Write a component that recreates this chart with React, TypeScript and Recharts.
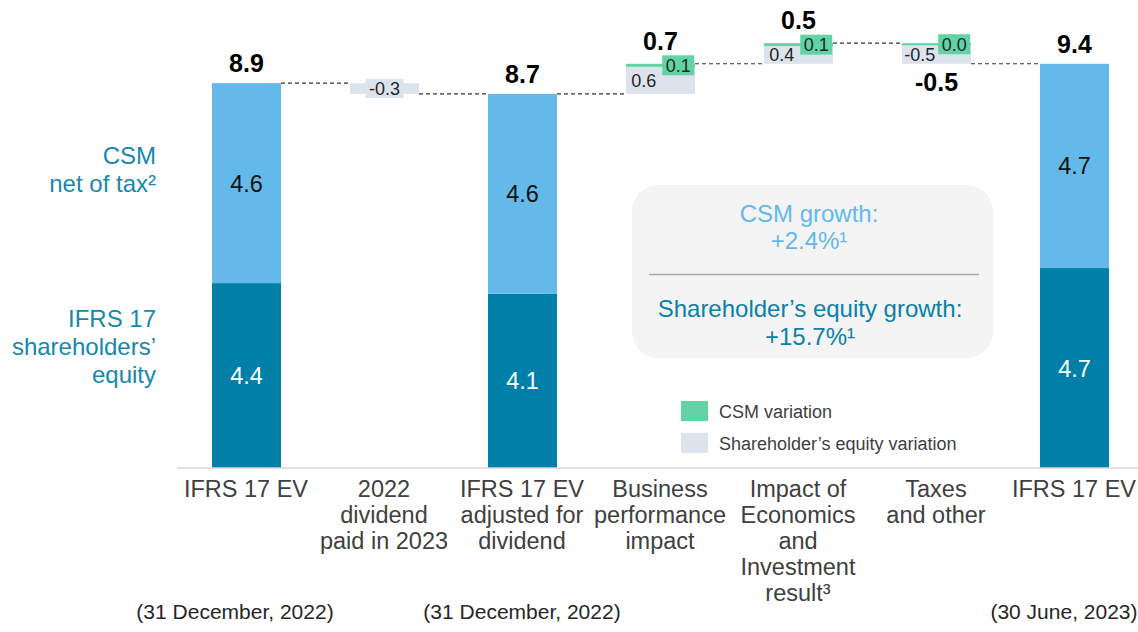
import React from "react";
import { BarChart, Bar, XAxis, YAxis } from "recharts";

const FONT = "'Liberation Sans', Arial, Helvetica, sans-serif";

const categoryLines = [
  ["IFRS 17 EV"],
  ["2022", "dividend", "paid in 2023"],
  ["IFRS 17 EV", "adjusted for", "dividend"],
  ["Business", "performance", "impact"],
  ["Impact of", "Economics", "and", "Investment", "result³"],
  ["Taxes", "and other"],
  ["IFRS 17 EV"],
];
const dateLabels = ["(31 December, 2022)", "", "(31 December, 2022)", "", "", "", "(30 June, 2023)"];
const isTotal = [true, false, true, false, false, false, true];

// bar sizes (EUR bn)
const equityValues = [4.3, -0.25, 4.05, 0.63, 0.41, -0.43, 4.65];
const csmValues = [4.65, 0, 4.65, 0.07, 0.07, -0.05, 4.75];

// printed labels
const equityLabels = ["4.4", "-0.3", "4.1", "0.6", "0.4", "-0.5", "4.7"];
const csmLabels = ["4.6", "", "4.6", "0.1", "0.1", "0.0", "4.7"];
const totalLabels = ["8.9", "", "8.7", "0.7", "0.5", "-0.5", "9.4"];

const DARK = "#0080a8";
const LIGHT = "#63b9ea";
const GREY = "#dde3ed";
const GREEN = "#62d3a5";
const BAR_W = 69;

// waterfall rows: transparent base + equity + csm segments
let level = 0;
const rows = categoryLines.map((_, i) => {
  const eq = equityValues[i];
  const csm = csmValues[i];
  if (isTotal[i]) {
    level = eq + csm;
    return { key: String(i), base: 0, eq, csm, end: level, down: false };
  }
  const start = level;
  const end = start + eq + csm;
  level = end;
  return {
    key: String(i),
    base: Math.min(start, end),
    eq: Math.abs(eq),
    csm: Math.abs(csm),
    end,
    down: end < start,
  };
});

const dateDx = [-11, 0, 0, 0, 0, 0, -10];

function CategoryTick(props: any) {
  const { x, y, payload } = props;
  const i = Number(payload.value);
  return (
    <g>
      <text textAnchor="middle" fontSize={23.5} fill="#404040" fontFamily={FONT}>
        {categoryLines[i].map((line, k) => (
          <tspan key={k} x={x} y={y + 29 + k * 26}>
            {line}
          </tspan>
        ))}
      </text>
      {dateLabels[i] && (
        <text x={x + dateDx[i]} y={y + 151} textAnchor="middle" fontSize={21} fill="#262626" fontFamily={FONT}>
          {dateLabels[i]}
        </text>
      )}
    </g>
  );
}

function LinkShape(props: any) {
  const { x, y, width, index } = props;
  if (index >= rows.length - 1) return <g />;
  return (
    <line
      x1={x + width}
      x2={x + 2 * width}
      y1={y}
      y2={y}
      stroke="#333"
      strokeWidth={1.1}
      strokeDasharray="4 3"
    />
  );
}

function EquityShape(props: any) {
  const { x, y, width, height, index } = props;
  const row = rows[index];
  const total = isTotal[index];
  const cy = y + height / 2;
  if (total) {
    return (
      <g>
        <rect x={x} y={y} width={width} height={height} fill={DARK} />
        <text x={x + width / 2} y={cy + 8.5} textAnchor="middle" fontSize={23.5} fill="#fff" fontFamily={FONT}>
          {equityLabels[index]}
        </text>
      </g>
    );
  }
  const centred = row.csm === 0;
  const cx = centred ? x + width / 2 : x + width * 0.25 + 0.5;
  const label = equityLabels[index];
  const boxW = label.length * 9.5;
  return (
    <g>
      <rect x={x} y={y} width={width} height={height} fill={GREY} />
      {centred && <rect x={cx - boxW / 2} y={cy - 9.5} width={boxW} height={19} fill={GREY} />}
      <text x={cx} y={cy + 6.5} textAnchor="middle" fontSize={18} fill="#262626" fontFamily={FONT}>
        {label}
      </text>
      {row.down && totalLabels[index] && (
        <text x={x + width / 2} y={y + height + 27} textAnchor="middle" fontSize={25} fontWeight={700} fill="#000" fontFamily={FONT}>
          {totalLabels[index]}
        </text>
      )}
    </g>
  );
}

function CsmShape(props: any) {
  const { x, y, width, height, index } = props;
  const row = rows[index];
  const total = isTotal[index];
  const cy = y + height / 2;
  const showTop = totalLabels[index] && !row.down;
  return (
    <g>
      {height > 0 && <rect x={x} y={y} width={width} height={height} fill={total ? LIGHT : GREEN} />}
      {total && (
        <text x={x + width / 2} y={cy + 8.5} textAnchor="middle" fontSize={23.5} fill="#111" fontFamily={FONT}>
          {csmLabels[index]}
        </text>
      )}
      {!total && csmLabels[index] && (
        <g>
          <rect x={x + width * 0.75 + 0.5 - 16} y={cy - 10} width={32} height={20} fill={GREEN} />
          <text x={x + width * 0.75 + 0.5} y={cy + 6.5} textAnchor="middle" fontSize={18} fill="#262626" fontFamily={FONT}>
            {csmLabels[index]}
          </text>
        </g>
      )}
      {showTop && (
        <text
          x={x + width / 2}
          y={y - (total ? 11 : 14)}
          textAnchor="middle"
          fontSize={25}
          fontWeight={700}
          fill="#000"
          fontFamily={FONT}
        >
          {totalLabels[index]}
        </text>
      )}
    </g>
  );
}

export default function App() {
  return (
    <div
      style={{
        position: "absolute",
        left: 0,
        top: 0,
        width: 1138,
        height: 632,
        overflow: "hidden",
        background: "#fff",
        fontFamily: FONT,
      }}
    >
      <BarChart
        width={1144}
        height={632}
        data={rows}
        margin={{ top: 38, right: 1, bottom: 0, left: 177 }}
        barCategoryGap="50%"
      >
        <XAxis
          dataKey="key"
          height={164}
          interval={0}
          tickLine={false}
          tickSize={0}
          tickMargin={0}
          axisLine={{ stroke: "#d9d9d9", strokeWidth: 1.5 }}
          tick={<CategoryTick />}
        />
        <XAxis xAxisId="link" dataKey="key" hide />
        <YAxis hide domain={[0, 10]} />
        <Bar dataKey="end" xAxisId="link" barSize={BAR_W} fill="none" shape={<LinkShape />} isAnimationActive={false} />
        <Bar dataKey="base" stackId="w" barSize={BAR_W} fill="transparent" isAnimationActive={false} />
        <Bar dataKey="eq" stackId="w" barSize={BAR_W} shape={<EquityShape />} isAnimationActive={false} />
        <Bar dataKey="csm" stackId="w" barSize={BAR_W} shape={<CsmShape />} isAnimationActive={false} />
      </BarChart>

      <svg
        width={1138}
        height={632}
        style={{ position: "absolute", left: 0, top: 0, pointerEvents: "none" }}
        fontFamily={FONT}
      >
        <text textAnchor="end" fontSize={24} fill="#1787ae">
          <tspan x={156} y={164}>CSM</tspan>
          <tspan x={156} y={192}>net of tax²</tspan>
          <tspan x={156} y={327}>IFRS 17</tspan>
          <tspan x={156} y={355}>shareholders’</tspan>
          <tspan x={156} y={383}>equity</tspan>
        </text>

        <rect x={632} y={185} width={361} height={173} rx={26} fill="#f4f4f4" />
        <line x1={649} x2={979} y1={274.5} y2={274.5} stroke="#a9a9a9" strokeWidth={1.5} />
        <text textAnchor="middle" fontSize={24}>
          <tspan x={809} y={222} fill={LIGHT}>CSM growth:</tspan>
          <tspan x={809} y={249} fill={LIGHT}>+2.4%¹</tspan>
          <tspan x={810} y={317} fill="#0b80a8">Shareholder’s equity growth:</tspan>
          <tspan x={810} y={345} fill="#0b80a8">+15.7%¹</tspan>
        </text>

        <rect x={681} y={401} width={27} height={20} fill={GREEN} />
        <text x={719} y={418} fontSize={18} fill="#404040">CSM variation</text>
        <rect x={681} y={433} width={27} height={20} fill={GREY} />
        <text x={719} y={450} fontSize={18} fill="#404040">Shareholder’s equity variation</text>
      </svg>
    </div>
  );
}
